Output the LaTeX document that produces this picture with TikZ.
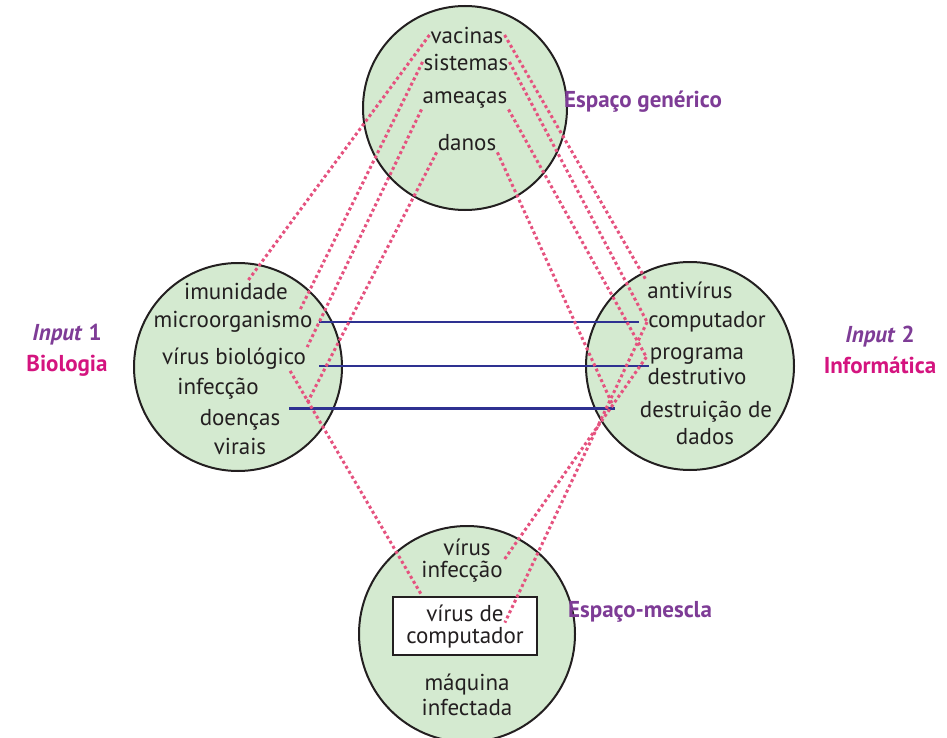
\documentclass[tikz,border=0pt]{standalone}
\usepackage{fontspec}
\setmainfont{PT Sans}
\usepackage{tkz-euclide}
\usetikzlibrary{calc}
\definecolor{SpaceClr}{RGB}{212,234,208}
\definecolor{LinkClr}{RGB}{229,82,127}
\definecolor{MapClr}{RGB}{46,49,145}
\definecolor{TitleClr}{RGB}{126,60,150}
\definecolor{InputClr}{RGB}{212,20,127}
\definecolor{TextClr}{RGB}{35,31,32}

\tikzset{
  term/.style={inner sep=1pt,text=TextClr,align=center,font=\fontsize{23}{25}\selectfont},
  title/.style={inner sep=1pt,align=center,font=\fontsize{23}{31}\selectfont\bfseries},
  link/.style={color=LinkClr,line width=3pt,dash pattern=on 3pt off 2.8pt},
  map/.style={color=MapClr,line width=2.6pt}
}

\begin{document}
\begin{tikzpicture}[x=1pt,y=-1pt]
\useasboundingbox (0,0) rectangle (947,738);

\tkzDefPoints{465/108/G,567/108/G',238/367/I,342/367/I',690/366/J,794/366/J',467/634/M,575/634/M'}

\tkzFillCircle[fill=SpaceClr](G,G')
\tkzFillCircle[fill=SpaceClr](I,I')
\tkzFillCircle[fill=SpaceClr](J,J')
\tkzFillCircle[fill=SpaceClr](M,M')
\tkzDrawCircle[line width=2pt,color=TextClr](G,G')
\tkzDrawCircle[line width=2pt,color=TextClr](I,I')
\tkzDrawCircle[line width=2pt,color=TextClr](J,J')
\tkzDrawCircle[line width=2pt,color=TextClr](M,M')

% espaco generico
\node[term] (vacG) at (467,35) {vacinas};
\node[term] (sisG) at (466,62) {sistemas};
\node[term] (ameG) at (465,100) {ameaças};
\node[term] (danG) at (467,143) {danos};

% input 1
\node[term] (imuL) at (236,291) {imunidade};
\node[term] (micL) at (233,322) {microorganismo};
\node[term] (virL) at (234,359) {vírus biológico};
\node[term] (infL) at (218,389) {infecção};
\node[term] (doeL) at (240,420) {doenças};
\node[term] (vrsL) at (240,446) {virais};

% input 2
\node[term] (antR) at (690,290) {antivírus};
\node[term] (comR) at (707,322) {computador};
\node[term] (proR) at (697,366) {programa\\destrutivo};
\node[term] (desR) at (706,412) {destruição de};
\node[term] (dadR) at (705,437) {dados};

% espaco-mescla
\node[term] (virB) at (467,547) {vírus};
\node[term] (infB) at (462,572) {infecção};
\node[draw=TextClr,line width=2pt,fill=white,minimum width=144,minimum height=58] (box) at (465,626) {};
\node[term] (vdeB) at (465,613) {vírus de};
\node[term] (cptB) at (465,638) {computador};
\node[term] (maqB) at (467,695) {máquina\\infectada};

\node[title,text=TitleClr] (genT) at (643,102) {Espaço genérico};
\node[title,text=TitleClr] (mesT) at (640,612) {Espaço-mescla};
\node[title,text=TitleClr] (in1T) at (67,350) {\textit{Input} 1\\\textcolor{InputClr}{Biologia}};
\node[title,text=TitleClr] (in2T) at (880,350) {\textit{Input} 2\\\textcolor{InputClr}{Informática}};

\draw[map] ($(micL.east)+(5,0)$) -- ($(comR.west)+(-8,0)$);
\draw[map] ($(virL.east |- proR.west)+(12,0)$) -- ($(proR.west)+(3,0)$);
\draw[map] ($(doeL.north east)+(8,0)$) -- ($(doeL.north east -| desR.west)+(-24,0)$);

\draw[link] (vacG.west) -- (imuL.40);
\draw[link] (sisG.west) -- (micL.10);
\draw[link] (ameG.south west) -- (virL.north east);
\draw[link] (danG.south west) -- ($(doeL.north east)+(25,-4)$);
\draw[link] (vacG.east) -- (antR.north west);
\draw[link] (sisG.east) -- (comR.west);
\draw[link] (ameG.south east) -- (proR.170);
\draw[link] (danG.south east) -- ($(desR.west)+(-26,-7)$);
\draw[link] (virL.-12) -- (box.145);
\draw[link] (comR.west) -- (vdeB.south east);
\draw[link] (proR.170) -- (infB.north east);

\end{tikzpicture}
\end{document}
